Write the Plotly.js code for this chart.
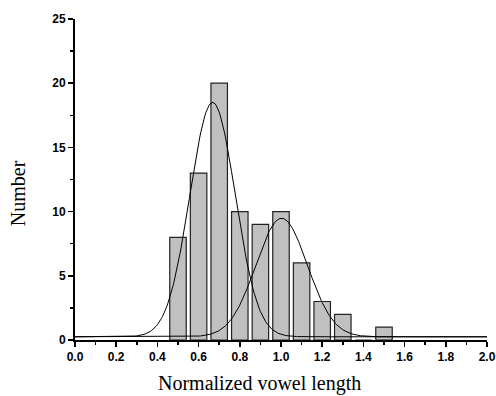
<!DOCTYPE html>
<html>
<head>
<meta charset="utf-8">
<script src="https://cdn.plot.ly/plotly-3.0.1.min.js"></script>
<style>html,body{margin:0;padding:0;background:#fff;}#chart{width:496px;height:396px;}</style>
</head>
<body>
<div id="chart"></div>
<script>
// Histogram bins (centres) and counts
var binCenters = [0.5, 0.6, 0.7, 0.8, 0.9, 1.0, 1.1, 1.2, 1.3, 1.4, 1.5];
var counts     = [8, 13, 20, 10, 9, 10, 6, 3, 2, 0, 1];

// Gaussian fit parameters
var fitCenters = [0.668, 1.003];
var fitSigmas  = [0.110, 0.125];
var fitPeaks   = [18.25, 9.23];
var fitBaseline = 0.25;

var xTickVals = [0, 0.2, 0.4, 0.6, 0.8, 1.0, 1.2, 1.4, 1.6, 1.8, 2.0];
var xTickText = ["0.0","0.2","0.4","0.6","0.8","1.0","1.2","1.4","1.6","1.8","2.0"];
var yTickVals = [0, 5, 10, 15, 20, 25];

var traces = [{
  type: 'bar', x: binCenters, y: counts, width: 0.08,
  marker: {color: '#c0c0c0', line: {color: '#222', width: 1.2}},
  hoverinfo: 'x+y', showlegend: false
}];

for (var k = 0; k < fitCenters.length; k++) {
  var cx = [], cy = [];
  for (var i = 0; i <= 400; i++) {
    var xv = i * 0.005;
    var d = xv - fitCenters[k];
    cx.push(xv);
    cy.push(fitBaseline + fitPeaks[k] * Math.exp(-d * d / (2 * fitSigmas[k] * fitSigmas[k])));
  }
  traces.push({type: 'scatter', mode: 'lines', x: cx, y: cy,
    line: {color: '#000', width: 1}, showlegend: false, hoverinfo: 'skip'});
}

var tickFont = {family: 'Liberation Sans, Arial, sans-serif', size: 12, color: '#000', weight: 'bold'};
var layout = {
  width: 496, height: 396,
  margin: {l: 75, r: 9, t: 19, b: 56},
  paper_bgcolor: '#fff', plot_bgcolor: '#fff',
  bargap: 0,
  xaxis: {
    range: [0, 2], tickvals: xTickVals, ticktext: xTickText,
    showgrid: false, zeroline: false, showline: true, linecolor: '#000', linewidth: 2,
    ticks: 'outside', ticklen: 5, tickwidth: 1.5, tickcolor: '#000',
    minor: {dtick: 0.1, tick0: 0, ticks: 'outside', ticklen: 3, tickwidth: 1.5, tickcolor: '#000', showgrid: false},
    tickfont: tickFont, fixedrange: true
  },
  yaxis: {
    range: [0, 25], tickvals: yTickVals,
    showgrid: false, zeroline: false, showline: true, linecolor: '#000', linewidth: 2,
    ticks: 'outside', ticklen: 5, tickwidth: 1.5, tickcolor: '#000',
    minor: {dtick: 2.5, tick0: 0, ticks: 'outside', ticklen: 3, tickwidth: 1.5, tickcolor: '#000', showgrid: false},
    tickfont: tickFont, fixedrange: true
  },
  annotations: [
    {text: 'Normalized vowel length', xref: 'paper', yref: 'paper', x: 0.449, y: -0.134,
     xanchor: 'center', yanchor: 'middle', showarrow: false,
     font: {family: 'Liberation Serif, Times New Roman, serif', size: 20, color: '#000'}},
    {text: 'Number', xref: 'paper', yref: 'paper', x: -0.138, y: 0.458, textangle: -90,
     xanchor: 'center', yanchor: 'middle', showarrow: false,
     font: {family: 'Liberation Serif, Times New Roman, serif', size: 20, color: '#000'}}
  ]
};

Plotly.newPlot('chart', traces, layout, {displayModeBar: false, staticPlot: true});
</script>
</body>
</html>
